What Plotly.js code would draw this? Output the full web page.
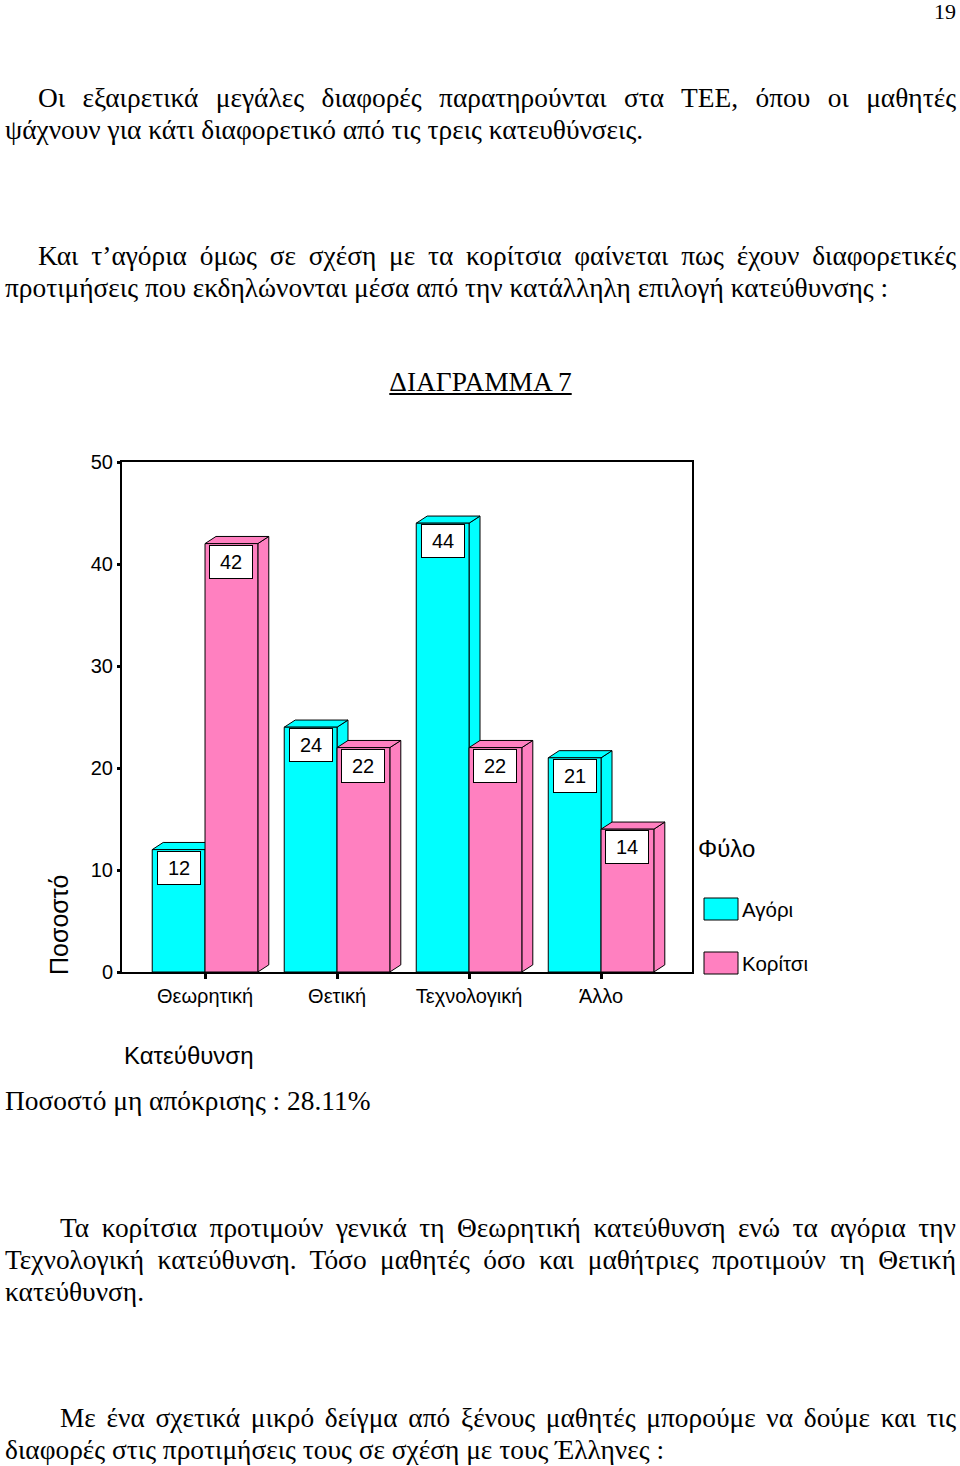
<!DOCTYPE html>
<html>
<head>
<meta charset="utf-8">
<script src="https://cdn.plot.ly/plotly-3.0.1.min.js"></script>
<style>
  body { margin: 0; background: #fff; width: 960px; height: 1466px; position: relative; overflow: hidden;
         font-family: "Liberation Serif", "Times New Roman", serif; color: #000; }
  .p { position: absolute; left: 5px; width: 951px; font-size: 27.4px; line-height: 32px; text-align: justify; }
  .ind1 { text-indent: 33px; }
  .ind2 { text-indent: 55px; }
  #chart { position: absolute; left: 0; top: 430px; width: 960px; height: 650px; }
</style>
</head>
<body>
<div class="p" style="top:0px;text-align:right;left:900px;width:56px;font-size:22px;line-height:24px;">19</div>
<div class="p ind1" style="top:82px;">Οι εξαιρετικά μεγάλες διαφορές παρατηρούνται στα ΤΕΕ, όπου οι μαθητές ψάχνουν για κάτι διαφορετικό από τις τρεις κατευθύνσεις.</div>
<div class="p ind1" style="top:240px;">Και τ’αγόρια όμως σε σχέση με τα κορίτσια φαίνεται πως έχουν διαφορετικές προτιμήσεις που εκδηλώνονται μέσα από την κατάλληλη επιλογή κατεύθυνσης :</div>
<div class="p" style="top:366px;text-align:center;"><u>ΔΙΑΓΡΑΜΜΑ 7</u></div>
<div id="chart"></div>
<div class="p" style="top:1085px;">Ποσοστό μη απόκρισης : 28.11%</div>
<div class="p ind2" style="top:1212px;">Τα κορίτσια προτιμούν γενικά τη Θεωρητική κατεύθυνση ενώ τα αγόρια την Τεχνολογική κατεύθυνση. Τόσο μαθητές όσο και μαθήτριες προτιμούν τη Θετική κατεύθυνση.</div>
<div class="p ind2" style="top:1402px;">Με ένα σχετικά μικρό δείγμα από ξένους μαθητές μπορούμε να δούμε και τις διαφορές στις προτιμήσεις τους σε σχέση με τους Έλληνες :</div>

<script>
var categories = ['Θεωρητική', 'Θετική', 'Τεχνολογική', 'Άλλο'];
var boys = [12, 24, 44, 21];
var girls = [42, 22, 22, 14];
var seriesNames = ['Αγόρι', 'Κορίτσι'];
var yTicks = [0, 10, 20, 30, 40, 50];

var cyan = '#00FFFF';
var pink = '#FF80C0';
var font = 'Liberation Sans, Arial, sans-serif';

// chart div sits at page y=430; plot box is 122..692 x 462..972 on the page
function px(x) { return (x - 122) / 570; }
function py(y) { return (972 - y) / 510; }

var xs = categories.map(function(c, i) { return i; });
var barW = 0.4;
var dx = 0.083, dy = 0.7;   // fake 3d depth

var traces = [
  { type: 'bar', x: xs, y: boys, name: seriesNames[0], offset: -barW, width: barW,
    marker: { color: cyan, line: { color: '#000', width: 1 } }, hoverinfo: 'y' },
  { type: 'bar', x: xs, y: girls, name: seriesNames[1], offset: 0, width: barW,
    marker: { color: pink, line: { color: '#000', width: 1 } }, hoverinfo: 'y' }
];

var shapes = [];
var annotations = [];

function addBox(xl, v, color) {
  var xr = xl + barW;
  shapes.push({ type: 'path', layer: 'below', xref: 'x', yref: 'y',
    path: 'M' + xr + ',0 L' + (xr + dx) + ',' + dy + ' L' + (xr + dx) + ',' + (v + dy) + ' L' + xr + ',' + v + ' Z',
    fillcolor: color, line: { color: '#000', width: 1 } });
  shapes.push({ type: 'path', layer: 'below', xref: 'x', yref: 'y',
    path: 'M' + xl + ',' + v + ' L' + (xl + dx) + ',' + (v + dy) + ' L' + (xr + dx) + ',' + (v + dy) + ' L' + xr + ',' + v + ' Z',
    fillcolor: color, line: { color: '#000', width: 1 } });
  annotations.push({ xref: 'x', yref: 'y', x: xl + barW / 2, y: v, yanchor: 'top', yshift: -1,
    text: String(v), showarrow: false, width: 40, height: 30, borderpad: 1,
    bgcolor: '#fff', bordercolor: '#000', borderwidth: 1,
    font: { family: font, size: 20, color: '#000' } });
}

xs.forEach(function(x, i) {
  addBox(x - barW, boys[i], cyan);
  addBox(x, girls[i], pink);
});

// axis titles
annotations.push({ xref: 'paper', yref: 'paper', x: px(59), y: py(925), text: 'Ποσοστό', textangle: -90,
  showarrow: false, xanchor: 'center', yanchor: 'middle', font: { family: font, size: 25, color: '#000' } });
annotations.push({ xref: 'paper', yref: 'paper', x: px(122), y: py(1055), text: 'Κατεύθυνση',
  showarrow: false, xanchor: 'left', yanchor: 'middle', font: { family: font, size: 24, color: '#000' } });

// legend
annotations.push({ xref: 'paper', yref: 'paper', x: px(696), y: py(848), text: 'Φύλο',
  showarrow: false, xanchor: 'left', yanchor: 'middle', font: { family: font, size: 24, color: '#000' } });
var legendColors = [cyan, pink];
var legendY = [909, 963];
seriesNames.forEach(function(n, k) {
  shapes.push({ type: 'rect', xref: 'paper', yref: 'paper', x0: px(704), x1: px(738),
    y0: py(legendY[k] + 11), y1: py(legendY[k] - 11), fillcolor: legendColors[k], line: { color: '#000', width: 1 } });
  annotations.push({ xref: 'paper', yref: 'paper', x: px(740), y: py(legendY[k]), text: n,
    showarrow: false, xanchor: 'left', yanchor: 'middle', font: { family: font, size: 20.5, color: '#000' } });
});

var layout = {
  width: 960, height: 650,
  margin: { l: 122, r: 268, t: 32, b: 108 },
  paper_bgcolor: '#fff', plot_bgcolor: '#fff',
  barmode: 'overlay',
  showlegend: false,
  font: { family: font, size: 20, color: '#000' },
  xaxis: {
    range: [-0.629, 3.689], tickvals: xs, ticktext: categories,
    ticks: 'outside', ticklen: 5, tickwidth: 3, tickcolor: '#000',
    showline: true, mirror: true, linecolor: '#000', linewidth: 2,
    showgrid: false, zeroline: false, fixedrange: true,
    tickfont: { family: font, size: 20, color: '#000' }
  },
  yaxis: {
    range: [0, 50], tickvals: yTicks, ticktext: yTicks.map(String),
    ticks: 'outside', ticklen: 3, tickwidth: 3, tickcolor: '#000',
    showline: true, mirror: true, linecolor: '#000', linewidth: 2,
    showgrid: false, zeroline: false, fixedrange: true,
    tickfont: { family: font, size: 20, color: '#000' }
  },
  shapes: shapes,
  annotations: annotations
};

Plotly.newPlot('chart', traces, layout, { staticPlot: true });
</script>
</body>
</html>
